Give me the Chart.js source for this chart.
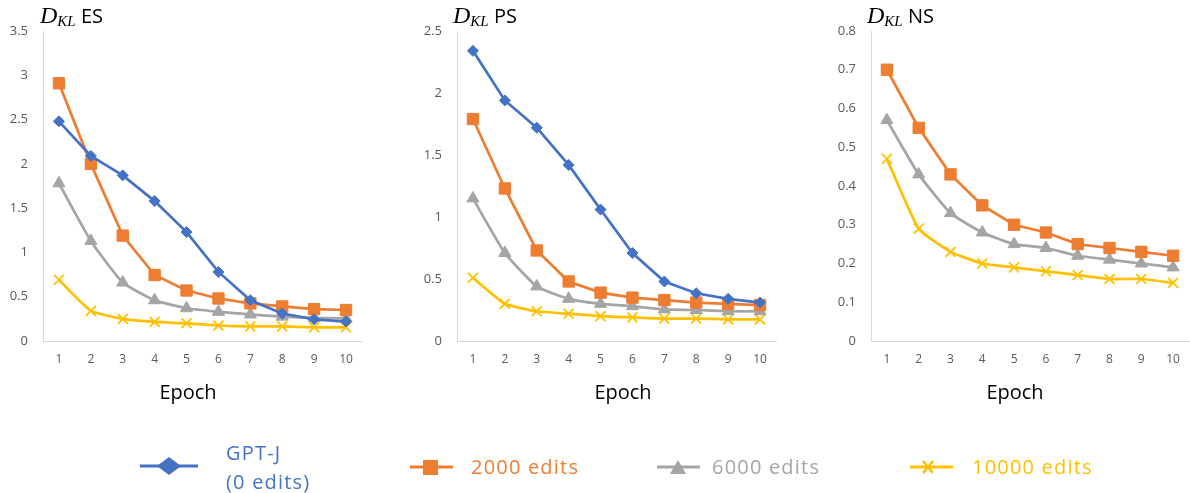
<!DOCTYPE html>
<html>
<head>
<meta charset="utf-8">
<script src="https://cdn.jsdelivr.net/npm/chart.js@4.4.0/dist/chart.umd.min.js"></script>
<style>
  html, body { margin: 0; padding: 0; background: #fff; }
  body { width: 1190px; height: 493px; position: relative; overflow: hidden; font-family: "Open Sans", sans-serif; }
  .panel { position: absolute; top: 0; }
  .title { position: absolute; top: 0; font-size: 20px; color: #000; white-space: nowrap; line-height: 30px; }
  .title .d { font-family: "Liberation Serif", serif; font-style: italic; font-size: 24px; }
  .title .d sub { font-size: 15px; vertical-align: -3px; }
  .epoch { position: absolute; top: 377px; font-size: 20px; color: #000; width: 100px; text-align: center; line-height: 30px; }
  .leg { position: absolute; font-size: 20px; letter-spacing: 1.2px; white-space: nowrap; line-height: 29px; }
  svg.sym { position: absolute; overflow: visible; }
</style>
</head>
<body>
<div class="panel" style="left:0px"><canvas id="c1" width="371" height="381"></canvas></div>
<div class="panel" style="left:414px"><canvas id="c2" width="371" height="381"></canvas></div>
<div class="panel" style="left:828px"><canvas id="c3" width="370" height="381"></canvas></div>

<div class="title" style="left:40px"><span class="d">D<sub>KL</sub></span> ES</div>
<div class="title" style="left:453px"><span class="d">D<sub>KL</sub></span> PS</div>
<div class="title" style="left:867px"><span class="d">D<sub>KL</sub></span> NS</div>

<div class="epoch" style="left:138px">Epoch</div>
<div class="epoch" style="left:573px">Epoch</div>
<div class="epoch" style="left:965px">Epoch</div>

<!-- legend -->
<svg class="sym" style="left:0;top:0" width="1190" height="493">
  <line x1="140" y1="466" x2="198" y2="466" stroke="#4472C4" stroke-width="3"/>
  <polygon points="157,466 169,457 181,466 169,475" fill="#4472C4"/>
  <line x1="410" y1="467" x2="453" y2="467" stroke="#ED7D31" stroke-width="3"/>
  <rect x="423" y="460" width="15" height="15" fill="#ED7D31"/>
  <line x1="657" y1="467" x2="700" y2="467" stroke="#A5A5A5" stroke-width="3"/>
  <polygon points="670,474 678,460 686,474" fill="#A5A5A5"/>
  <line x1="910" y1="467" x2="953" y2="467" stroke="#FFC000" stroke-width="3"/>
  <path d="M923,461 L933,473 M933,461 L923,473" stroke="#FFC000" stroke-width="2.5"/>
</svg>
<div class="leg" style="left:226px;top:438px;color:#4472C4">GPT-J<br>(0 edits)</div>
<div class="leg" style="left:471px;top:452px;color:#ED7D31">2000 edits</div>
<div class="leg" style="left:712px;top:452px;color:#A5A5A5">6000 edits</div>
<div class="leg" style="left:972px;top:452px;color:#FFC000">10000 edits</div>

<script>
// ---------- data ----------
const epochs = ['1', '2', '3', '4', '5', '6', '7', '8', '9', '10'];

const seriesNames = ['GPT-J (0 edits)', '2000 edits', '6000 edits', '10000 edits'];

// ES panel
const esGPTJ  = [2.48, 2.09, 1.87, 1.58, 1.23, 0.78, 0.46, 0.31, 0.245, 0.22];
const es2000  = [2.91, 2.00, 1.19, 0.745, 0.57, 0.48, 0.425, 0.39, 0.36, 0.35];
const es6000  = [1.78, 1.13, 0.66, 0.46, 0.37, 0.33, 0.30, 0.275, 0.26, 0.255];
const es10000 = [0.69, 0.34, 0.25, 0.215, 0.20, 0.175, 0.165, 0.165, 0.155, 0.155];
const esTicks = ['0', '0.5', '1', '1.5', '2', '2.5', '3', '3.5'];

// PS panel
const psGPTJ  = [2.34, 1.94, 1.72, 1.42, 1.06, 0.71, 0.48, 0.385, 0.34, 0.31];
const ps2000  = [1.79, 1.23, 0.73, 0.48, 0.39, 0.35, 0.33, 0.31, 0.30, 0.29];
const ps6000  = [1.15, 0.71, 0.44, 0.34, 0.30, 0.28, 0.255, 0.25, 0.24, 0.24];
const ps10000 = [0.51, 0.30, 0.24, 0.22, 0.20, 0.19, 0.18, 0.18, 0.175, 0.175];
const psTicks = ['0', '0.5', '1', '1.5', '2', '2.5'];

// NS panel (no GPT-J series)
const ns2000  = [0.70, 0.55, 0.43, 0.35, 0.30, 0.28, 0.25, 0.24, 0.23, 0.22];
const ns6000  = [0.57, 0.43, 0.33, 0.28, 0.25, 0.24, 0.22, 0.21, 0.20, 0.19];
const ns10000 = [0.47, 0.29, 0.23, 0.20, 0.19, 0.18, 0.17, 0.16, 0.16, 0.15];
const nsTicks = ['0', '0.1', '0.2', '0.3', '0.4', '0.5', '0.6', '0.7', '0.8'];

// ---------- styles ----------
const styles = [
  { color: '#4472C4', pointStyle: 'rectRot', pointRadius: 5.5, pointBorderWidth: 1, tension: 0 },
  { color: '#ED7D31', pointStyle: 'rect', pointRadius: 8, pointBorderWidth: 1, tension: 0 },
  { color: '#A5A5A5', pointStyle: 'triangle', pointRadius: 7, pointBorderWidth: 1, tension: 0.15 },
  { color: '#FFC000', pointStyle: 'crossRot', pointRadius: 7, pointBorderWidth: 1.8, tension: 0.15 }
];

function ds(idx, data) {
  const s = styles[idx];
  return {
    label: seriesNames[idx],
    data: data,
    borderColor: s.color,
    backgroundColor: s.color,
    pointBackgroundColor: s.color,
    pointBorderColor: s.color,
    pointStyle: s.pointStyle,
    pointRadius: s.pointRadius,
    pointBorderWidth: s.pointBorderWidth,
    borderWidth: 2.75,
    tension: s.tension,
    clip: false
  };
}

function makePanel(id, datasets, yMax, yStep, yTicks) {
  new Chart(document.getElementById(id), {
    type: 'line',
    data: { labels: epochs, datasets: datasets },
    options: {
      responsive: false,
      animation: false,
      layout: { padding: { top: 31, left: 0, right: 0, bottom: 0 } },
      plugins: { legend: { display: false }, tooltip: { enabled: false } },
      scales: {
        x: {
          type: 'category',
          offset: true,
          grid: { display: false, drawTicks: false },
          border: { display: true, color: '#d9d9d9', width: 1 },
          ticks: { color: '#595959', font: { family: 'Open Sans', size: 12 }, padding: 11, maxRotation: 0, autoSkip: false },
          afterFit: s => { s.height = 40; s.paddingLeft = 0; s.paddingRight = 0; }
        },
        y: {
          min: 0, max: yMax,
          grid: { display: false, drawTicks: false },
          border: { display: true, color: '#d9d9d9', width: 1 },
          ticks: {
            stepSize: yStep,
            color: '#595959',
            font: { family: 'Open Sans', size: 13 },
            padding: 15,
            callback: (v, i) => yTicks[i]
          },
          afterFit: s => { s.width = 43; }
        }
      }
    }
  });
}

makePanel('c1', [ds(0, esGPTJ), ds(1, es2000), ds(2, es6000), ds(3, es10000)], 3.5, 0.5, esTicks);
makePanel('c2', [ds(0, psGPTJ), ds(1, ps2000), ds(2, ps6000), ds(3, ps10000)], 2.5, 0.5, psTicks);
makePanel('c3', [ds(1, ns2000), ds(2, ns6000), ds(3, ns10000)], 0.8, 0.1, nsTicks);
</script>
</body>
</html>
